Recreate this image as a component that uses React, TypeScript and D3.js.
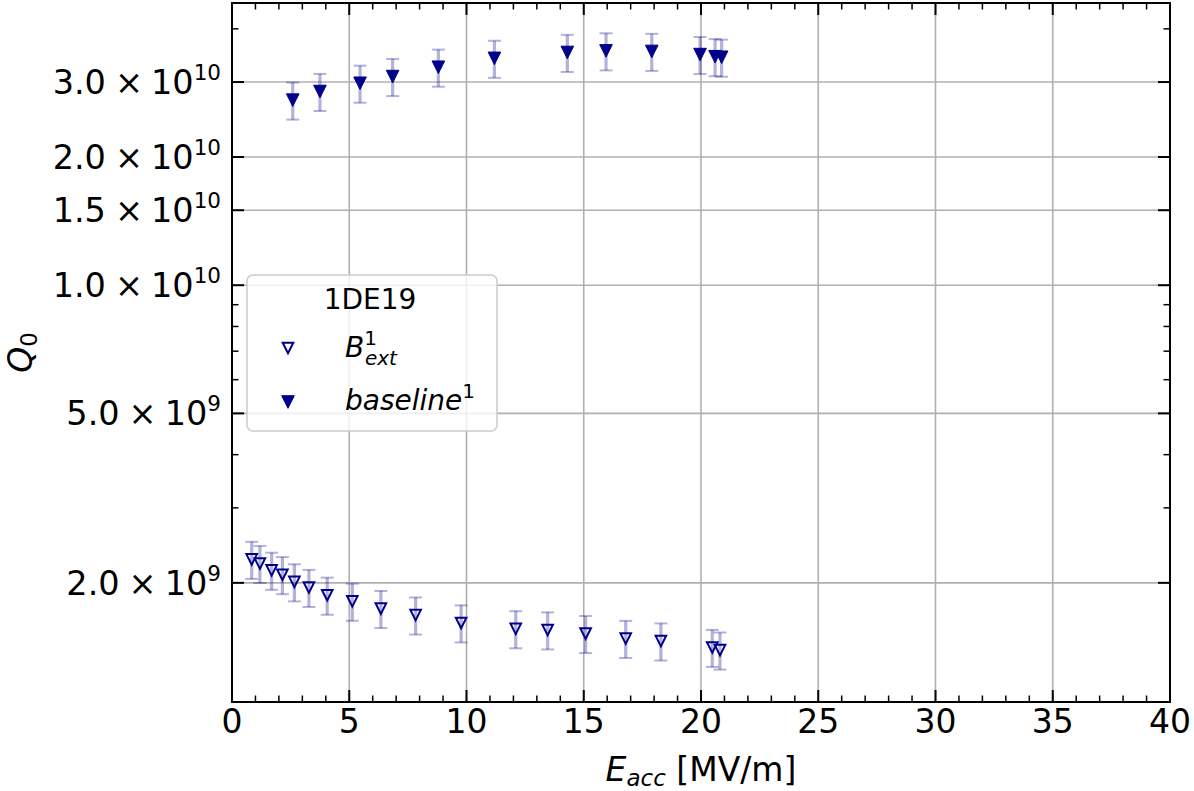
import React from "react";
import * as d3 from "d3";

// ---------- data ----------
const extE = [0.84, 1.19, 1.69, 2.15, 2.66, 3.28, 4.06, 5.13, 6.35, 7.83, 9.77, 12.1, 13.46, 15.08, 16.79, 18.29, 20.48, 20.81];
const extQ = [2.27e9, 2.22e9, 2.14e9, 2.09e9, 2.01e9, 1.95e9, 1.87e9, 1.81e9, 1.74e9, 1.68e9, 1.61e9, 1.56e9, 1.55e9, 1.52e9, 1.48e9, 1.46e9, 1.41e9, 1.39e9];
const extErr = [0.227e9, 0.222e9, 0.214e9, 0.209e9, 0.201e9, 0.195e9, 0.187e9, 0.181e9, 0.174e9, 0.168e9, 0.161e9, 0.156e9, 0.155e9, 0.152e9, 0.148e9, 0.146e9, 0.141e9, 0.139e9];

const baseE = [2.59, 3.75, 5.46, 6.85, 8.8, 11.19, 14.3, 15.95, 17.9, 19.96, 20.6, 20.88];
const baseQ = [2.72e10, 2.85e10, 2.98e10, 3.09e10, 3.25e10, 3.41e10, 3.52e10, 3.55e10, 3.54e10, 3.48e10, 3.44e10, 3.43e10];
const baseErr = [0.272e10, 0.285e10, 0.298e10, 0.309e10, 0.325e10, 0.341e10, 0.352e10, 0.355e10, 0.354e10, 0.348e10, 0.344e10, 0.343e10];

const xMajorTicks = [0, 5, 10, 15, 20, 25, 30, 35, 40];
const yMajorTicks = [2e9, 5e9, 1e10, 1.5e10, 2e10, 3e10];
const yTickMantissa = ["2.0", "5.0", "1.0", "1.5", "2.0", "3.0"];
const yTickExponent = ["9", "9", "10", "10", "10", "10"];

const legendTitle = "1DE19";

// ---------- layout ----------
const W = 1194, H = 791;
const L = 232, R = 1170, T = 3, B = 702;
const FONT = "DejaVu Sans, sans-serif";
const DARK = "#00008b";
const BAR = "rgba(0,0,139,0.3)";
const GRID = "#b0b0b0";

const x = d3.scaleLinear().domain([0, 40]).range([L, R]);
const y = d3.scaleLog().domain([1.05e9, 4.6e10]).range([B, T]);

const tri = (r: number) => `M${-r},${-r}L${r},${-r}L0,${r}Z`;

function ErrBars({ xs, ys, es }: { xs: number[]; ys: number[]; es: number[] }) {
  return (
    <g>
      {xs.map((e, i) => {
        const cx = x(e);
        const y1 = y(ys[i] + es[i]);
        const y2 = y(ys[i] - es[i]);
        return (
          <g key={i} stroke={BAR}>
            <line x1={cx} x2={cx} y1={y1} y2={y2} strokeWidth={3.2} />
            <line x1={cx - 6.5} x2={cx + 6.5} y1={y1} y2={y1} strokeWidth={2} />
            <line x1={cx - 6.5} x2={cx + 6.5} y1={y2} y2={y2} strokeWidth={2} />
          </g>
        );
      })}
    </g>
  );
}

export default function App() {
  const xMinor = d3.range(0, 41, 1).filter((v) => !xMajorTicks.includes(v));
  const [d0, d1] = y.domain();
  const yMinor = y.ticks().filter((v) => v >= d0 && v <= d1 && !yMajorTicks.some((m) => Math.abs(m - v) / v < 1e-6));

  return (
    <svg width={W} height={H} style={{ position: "absolute", left: 0, top: 0, background: "#fff" }} fontFamily={FONT}>
      <rect x={0} y={0} width={W} height={H} fill="#fff" />
      {/* grid */}
      <g stroke={GRID} strokeWidth={1.6}>
        {xMajorTicks.map((t) => (
          <line key={"gx" + t} x1={x(t)} x2={x(t)} y1={T} y2={B} />
        ))}
        {yMajorTicks.map((t) => (
          <line key={"gy" + t} x1={L} x2={R} y1={y(t)} y2={y(t)} />
        ))}
      </g>

      {/* error bars */}
      <ErrBars xs={extE} ys={extQ} es={extErr} />
      <ErrBars xs={baseE} ys={baseQ} es={baseErr} />

      {/* markers */}
      {extE.map((e, i) => (
        <path key={"m1" + i} d={tri(5.3)} transform={`translate(${x(e)},${y(extQ[i])})`} fill="none" stroke={DARK} strokeWidth={2} />
      ))}
      {baseE.map((e, i) => (
        <path key={"m2" + i} d={tri(6.3)} transform={`translate(${x(e)},${y(baseQ[i])})`} fill={DARK} stroke={DARK} strokeWidth={1} />
      ))}

      {/* ticks */}
      <g stroke="#000">
        {xMajorTicks.map((t) => (
          <g key={"xt" + t} strokeWidth={2}>
            <line x1={x(t)} x2={x(t)} y1={B} y2={B - 12} />
            <line x1={x(t)} x2={x(t)} y1={T} y2={T + 12} />
          </g>
        ))}
        {xMinor.map((t) => (
          <g key={"xm" + t} strokeWidth={1.5}>
            <line x1={x(t)} x2={x(t)} y1={B} y2={B - 6.5} />
            <line x1={x(t)} x2={x(t)} y1={T} y2={T + 6.5} />
          </g>
        ))}
        {yMajorTicks.map((t) => (
          <g key={"yt" + t} strokeWidth={2}>
            <line x1={L} x2={L + 12} y1={y(t)} y2={y(t)} />
            <line x1={R} x2={R - 12} y1={y(t)} y2={y(t)} />
          </g>
        ))}
        {yMinor.map((t) => (
          <g key={"ym" + t} strokeWidth={1.5}>
            <line x1={L} x2={L + 6.5} y1={y(t)} y2={y(t)} />
            <line x1={R} x2={R - 6.5} y1={y(t)} y2={y(t)} />
          </g>
        ))}
      </g>

      {/* frame */}
      <rect x={L} y={T} width={R - L} height={B - T} fill="none" stroke="#000" strokeWidth={2} />

      {/* x tick labels */}
      {xMajorTicks.map((t) => (
        <text key={"xl" + t} x={x(t)} y={B + 31} fontSize={33} textAnchor="middle" fill="#000">
          {t}
        </text>
      ))}

      {/* y tick labels */}
      {yMajorTicks.map((t, i) => (
        <text key={"yl" + t} x={221} y={y(t) + 12} fontSize={33.5} textAnchor="end" fill="#000">
          {yTickMantissa[i]}
          <tspan dx={9}>×</tspan>
          <tspan dx={8}>10</tspan>
          <tspan fontSize={21.5} dy={-14}>{yTickExponent[i]}</tspan>
        </text>
      ))}

      {/* axis labels */}
      <text x={(L + R) / 2} y={781} fontSize={33} textAnchor="middle" fill="#000">
        <tspan fontStyle="italic">E</tspan>
        <tspan fontStyle="italic" fontSize={23} dy={5}>acc</tspan>
        <tspan dy={-5}> [MV/m]</tspan>
      </text>
      <text transform={`translate(32,${(T + B) / 2}) rotate(-90)`} fontSize={33} textAnchor="middle" fill="#000">
        <tspan fontStyle="italic">Q</tspan>
        <tspan fontSize={23} dy={5}>0</tspan>
      </text>

      {/* legend */}
      <g>
        <rect x={247} y={275} width={250} height={156} rx={6} fill="#fff" fillOpacity={0.8} stroke="#cccccc" strokeWidth={1.5} />
        <text x={370} y={309} fontSize={28} textAnchor="middle" fill="#000">{legendTitle}</text>
        <path d={tri(5.3)} transform="translate(288,348)" fill="none" stroke={DARK} strokeWidth={2} />
        <text x={345} y={357} fontSize={28} fill="#000" fontStyle="italic">
          B
          <tspan fontStyle="normal" fontSize={20} dy={-12}>1</tspan>
          <tspan fontSize={20} dx={-12} dy={20}>ext</tspan>
        </text>
        <path d={tri(6.3)} transform="translate(288,402)" fill={DARK} stroke={DARK} strokeWidth={1} />
        <text x={345} y={410} fontSize={28} fill="#000" fontStyle="italic">
          baseline
          <tspan fontStyle="normal" fontSize={20} dy={-12}>1</tspan>
        </text>
      </g>
    </svg>
  );
}
